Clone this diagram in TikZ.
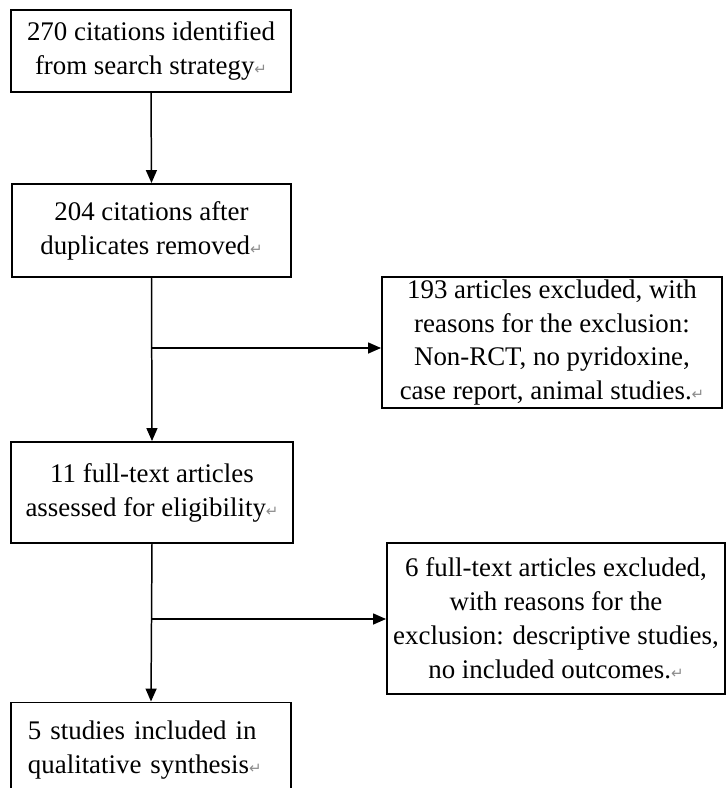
\documentclass[tikz,border=0pt]{standalone}
\usepackage{fontspec}
\setmainfont{Liberation Serif}
\newfontfamily\marksfont{DejaVu Sans}
\usetikzlibrary{arrows.meta}
\newcommand{\retmark}{{\marksfont\fontsize{8.5}{8.5}\selectfont\textcolor{black!45}{↵}}}

\begin{document}
\begin{tikzpicture}[scale=1.0000]
	\tikzstyle{every node}=[scale=1.0000]
	\tikzstyle{stagebox}=[draw, line width=1.1pt, align=center, inner sep=0pt, font=\fontsize{15.3}{19.3}\selectfont]
	\tikzstyle{flowline}=[line width=0.85pt, -{Triangle[length=0.26cm,width=0.22cm]}]
	
	\clip (0.0000,0.0000) rectangle (14.5400,-15.7600);
	
	%% main column
	\node [stagebox, minimum width=5.6000cm, minimum height=1.6400cm] (found) at (3.0200,-1.0200) {270 citations identified\\ from search strategy\retmark};
	\node [stagebox, minimum width=5.5800cm, minimum height=1.8600cm] (dedup) at (3.0300,-4.6100) {204 citations after\\ duplicates removed\retmark};
	\node [stagebox, minimum width=5.6400cm, minimum height=2.0200cm] (fulltext) at (3.0400,-9.8500) {11 full-text articles\\ assessed for eligibility\retmark};
	\node [stagebox, minimum width=5.6000cm, minimum height=1.9000cm, align=left, text width=4.9200cm, inner xsep=0.3400cm] (included) at (3.0200,-15.0000) {5 studies included in\\ qualitative synthesis\retmark};
	
	%% exclusion boxes
	\node [stagebox, minimum width=6.8000cm, minimum height=2.6200cm] (excl1) at (11.0400,-6.8500) {193 articles excluded, with\\ reasons for the exclusion:\\ Non-RCT, no pyridoxine,\\ case report, animal studies.\retmark};
	\node [stagebox, minimum width=6.7600cm, minimum height=3.0200cm] (excl2) at (11.1200,-12.3700) {6 full-text articles excluded,\\ with reasons for the\\ exclusion: descriptive studies,\\ no included outcomes.\retmark};
	
	\coordinate (split1) at (found.south |- 0,-6.9600);
	\coordinate (split2) at (found.south |- 0,-12.3800);
	
	\draw [flowline] (found.south) -- (dedup.north);
	\draw [flowline] (dedup.south) -- (fulltext.north);
	\draw [flowline] (fulltext.south) -- (included.north);
	\draw [flowline] (split1) -- (split1 -| excl1.west);
	\draw [flowline] (split2) -- (split2 -| excl2.west);

\end{tikzpicture}
\end{document}
